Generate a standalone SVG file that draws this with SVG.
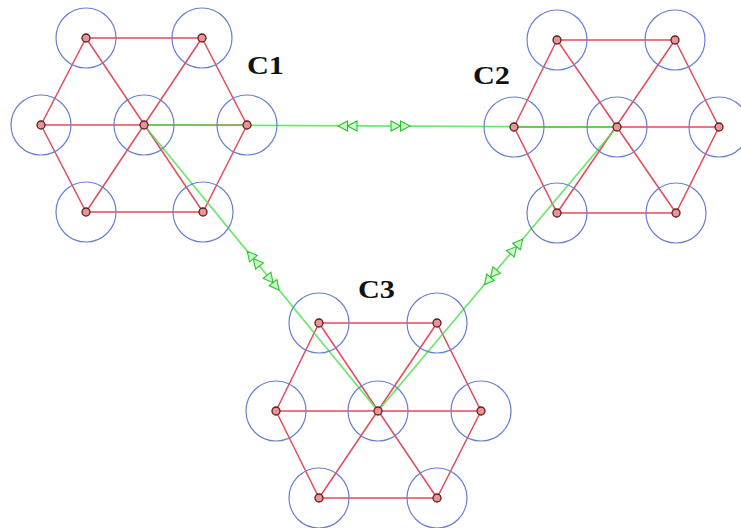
<svg xmlns="http://www.w3.org/2000/svg" xmlns:xlink="http://www.w3.org/1999/xlink" width="741" height="528" viewBox="0 0 741 528">
<style>
.bg{fill:#ffffff}
.ring{fill:none;stroke:#6a80d0;stroke-width:1.2}
.dot{fill:#e99595;stroke:#5a1f1f;stroke-width:1.3}
.edge{stroke:#e34a5e;stroke-width:1.5;fill:none}
.link{stroke:#4fe04f;stroke-width:1.8;fill:none;opacity:0.8}
.arr{fill:#c8ffc8;stroke:#2fc22f;stroke-width:1.1}
.lbl{font-family:"Liberation Serif","Times New Roman",serif;font-weight:bold;font-size:25px;fill:#111}
</style>
<defs>
<g id="dbl">
<path class="arr" d="M0,-5 L9.5,0 L0,5 Z"/>
<path class="arr" d="M9.5,-5 L19,0 L9.5,5 Z"/>
</g>
</defs>
<rect class="bg" x="0" y="0" width="741" height="528"/>
<g id="connectors">
<g id="edges-c1">
<line class="edge" x1="86" y1="38" x2="202" y2="38"/>
<line class="edge" x1="202" y1="38" x2="247" y2="125"/>
<line class="edge" x1="247" y1="125" x2="203" y2="212"/>
<line class="edge" x1="203" y1="212" x2="86" y2="212"/>
<line class="edge" x1="86" y1="212" x2="41" y2="125"/>
<line class="edge" x1="41" y1="125" x2="86" y2="38"/>
<line class="edge" x1="86" y1="38" x2="203" y2="212"/>
<line class="edge" x1="202" y1="38" x2="86" y2="212"/>
<line class="edge" x1="41" y1="125" x2="247" y2="125"/>
</g>
<g id="edges-c2">
<line class="edge" x1="557" y1="40" x2="675" y2="40"/>
<line class="edge" x1="675" y1="40" x2="719" y2="127"/>
<line class="edge" x1="719" y1="127" x2="676" y2="213"/>
<line class="edge" x1="676" y1="213" x2="557" y2="213"/>
<line class="edge" x1="557" y1="213" x2="514" y2="127"/>
<line class="edge" x1="514" y1="127" x2="557" y2="40"/>
<line class="edge" x1="557" y1="40" x2="676" y2="213"/>
<line class="edge" x1="675" y1="40" x2="557" y2="213"/>
<line class="edge" x1="514" y1="127" x2="719" y2="127"/>
</g>
<g id="edges-c3">
<line class="edge" x1="319" y1="323" x2="437" y2="323"/>
<line class="edge" x1="437" y1="323" x2="481" y2="411"/>
<line class="edge" x1="481" y1="411" x2="437" y2="498"/>
<line class="edge" x1="437" y1="498" x2="319" y2="498"/>
<line class="edge" x1="319" y1="498" x2="276" y2="411"/>
<line class="edge" x1="276" y1="411" x2="319" y2="323"/>
<line class="edge" x1="319" y1="323" x2="437" y2="498"/>
<line class="edge" x1="437" y1="323" x2="319" y2="498"/>
<line class="edge" x1="276" y1="411" x2="481" y2="411"/>
</g>
<g id="links">
<line class="link" x1="144" y1="125" x2="617" y2="127"/>
<line class="link" x1="144" y1="125" x2="378" y2="411"/>
<line class="link" x1="617" y1="127" x2="378" y2="411"/>
<use xlink:href="#dbl" transform="translate(357,126) rotate(180)"/>
<use xlink:href="#dbl" transform="translate(391,126)"/>
<use xlink:href="#dbl" transform="translate(259.4,266) rotate(230.7)"/>
<use xlink:href="#dbl" transform="translate(267,275.3) rotate(50.7)"/>
<use xlink:href="#dbl" transform="translate(510.4,253.8) rotate(-49.9)"/>
<use xlink:href="#dbl" transform="translate(496.7,270) rotate(130.1)"/>
</g>
</g>
<g id="c1">
<g id="c1-tl"><circle class="ring" cx="86" cy="38" r="30"/><circle class="dot" cx="86" cy="38" r="4"/></g>
<g id="c1-tr"><circle class="ring" cx="202" cy="38" r="30"/><circle class="dot" cx="202" cy="38" r="4"/></g>
<g id="c1-ml"><circle class="ring" cx="41" cy="125" r="30"/><circle class="dot" cx="41" cy="125" r="4"/></g>
<g id="c1-c"><circle class="ring" cx="144" cy="125" r="30"/><circle class="dot" cx="144" cy="125" r="4"/></g>
<g id="c1-mr"><circle class="ring" cx="247" cy="125" r="30"/><circle class="dot" cx="247" cy="125" r="4"/></g>
<g id="c1-bl"><circle class="ring" cx="86" cy="212" r="30"/><circle class="dot" cx="86" cy="212" r="4"/></g>
<g id="c1-br"><circle class="ring" cx="203" cy="212" r="30"/><circle class="dot" cx="203" cy="212" r="4"/></g>
<text class="lbl" x="247" y="74" textLength="37" lengthAdjust="spacingAndGlyphs">C1</text>
</g>
<g id="c2">
<g id="c2-tl"><circle class="ring" cx="557" cy="40" r="30"/><circle class="dot" cx="557" cy="40" r="4"/></g>
<g id="c2-tr"><circle class="ring" cx="675" cy="40" r="30"/><circle class="dot" cx="675" cy="40" r="4"/></g>
<g id="c2-ml"><circle class="ring" cx="514" cy="127" r="30"/><circle class="dot" cx="514" cy="127" r="4"/></g>
<g id="c2-c"><circle class="ring" cx="617" cy="127" r="30"/><circle class="dot" cx="617" cy="127" r="4"/></g>
<g id="c2-mr"><circle class="ring" cx="719" cy="127" r="30"/><circle class="dot" cx="719" cy="127" r="4"/></g>
<g id="c2-bl"><circle class="ring" cx="557" cy="213" r="30"/><circle class="dot" cx="557" cy="213" r="4"/></g>
<g id="c2-br"><circle class="ring" cx="676" cy="213" r="30"/><circle class="dot" cx="676" cy="213" r="4"/></g>
<text class="lbl" x="473" y="84" textLength="37" lengthAdjust="spacingAndGlyphs">C2</text>
</g>
<g id="c3">
<g id="c3-tl"><circle class="ring" cx="319" cy="323" r="30"/><circle class="dot" cx="319" cy="323" r="4"/></g>
<g id="c3-tr"><circle class="ring" cx="437" cy="323" r="30"/><circle class="dot" cx="437" cy="323" r="4"/></g>
<g id="c3-ml"><circle class="ring" cx="276" cy="411" r="30"/><circle class="dot" cx="276" cy="411" r="4"/></g>
<g id="c3-c"><circle class="ring" cx="378" cy="411" r="30"/><circle class="dot" cx="378" cy="411" r="4"/></g>
<g id="c3-mr"><circle class="ring" cx="481" cy="411" r="30"/><circle class="dot" cx="481" cy="411" r="4"/></g>
<g id="c3-bl"><circle class="ring" cx="319" cy="498" r="30"/><circle class="dot" cx="319" cy="498" r="4"/></g>
<g id="c3-br"><circle class="ring" cx="437" cy="498" r="30"/><circle class="dot" cx="437" cy="498" r="4"/></g>
<text class="lbl" x="358" y="298" textLength="37" lengthAdjust="spacingAndGlyphs">C3</text>
</g>
</svg>
